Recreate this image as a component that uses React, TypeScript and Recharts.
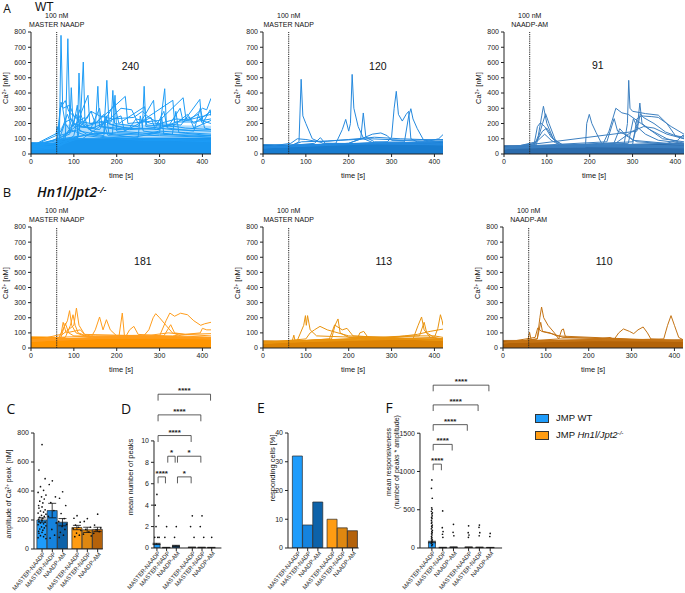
import React from 'react';
import {
  ComposedChart,
  Line,
  Area,
  Bar,
  Scatter,
  ErrorBar,
  Cell,
  XAxis,
  YAxis,
  ReferenceLine
} from 'recharts';

const FONT = '"Liberation Sans", Arial, Helvetica, sans-serif';
const TITLE_FONT = '"Open Sans", "Liberation Sans", sans-serif';

// shared axis values
const TIME_TICKS = [0, 100, 200, 300, 400];
const CA_TICKS = [0, 100, 200, 300, 400, 500, 600, 700, 800];
const STIM_TIME = 60;
const TREATMENTS = ['MASTER-NAADP', 'MASTER-NADP', 'NAADP-AM'];
const STIM_LABELS = ['MASTER NAADP', 'MASTER NADP', 'NAADP-AM'];
const CELL_COUNTS_WT = [240, 120, 91];
const CELL_COUNTS_KO = [181, 113, 110];

// Ca2+ traces, [time s, nM] pairs
const WT_MASTER_NAADP_BAND = [[0, 75], [55, 72], [60, 80], [70, 100], [200, 105], [420, 105]];
const WT_MASTER_NAADP_MESH = [[0, 75], [55, 75], [62, 150], [75, 190], [120, 200], [200, 195], [300, 190], [420, 185]];
const WT_MASTER_NAADP_TRACES = [
  [[0, 40], [60, 45], [66, 60], [70, 778], [74, 300], [80, 200], [90, 160], [110, 140], [130, 120], [160, 110], [200, 100], [260, 90], [320, 90], [420, 80]],
  [[0, 50], [60, 50], [80, 80], [86, 756], [90, 250], [100, 180], [130, 130], [180, 110], [250, 100], [420, 90]],
  [[0, 55], [62, 70], [110, 110], [116, 250], [122, 603], [126, 200], [140, 150], [200, 130], [300, 120], [420, 110]],
  [[0, 35], [70, 60], [108, 100], [112, 531], [116, 200], [150, 140], [190, 130], [196, 385], [200, 150], [300, 130], [420, 120]],
  [[0, 45], [60, 50], [90, 150], [94, 435], [98, 200], [120, 180], [150, 170], [156, 444], [160, 180], [200, 160], [260, 170], [264, 444], [268, 180], [330, 160], [420, 150]],
  [[0, 60], [70, 100], [170, 140], [177, 483], [182, 200], [220, 170], [300, 160], [312, 428], [316, 190], [360, 170], [420, 160]],
  [[0, 30], [60, 40], [70, 340], [75, 300], [90, 320], [100, 250], [120, 210], [140, 200], [187, 210], [191, 417], [195, 200], [250, 180], [286, 352], [290, 200], [350, 190], [394, 358], [398, 220], [420, 200]],
  [[0, 40], [60, 40], [68, 300], [80, 350], [88, 280], [110, 220], [133, 385], [137, 200], [180, 220], [210, 300], [235, 290], [250, 200], [331, 352], [335, 210], [380, 210], [420, 230]],
  [[0, 50], [58, 120], [61, 180], [66, 120], [110, 160], [140, 280], [150, 200], [220, 378], [226, 200], [300, 220], [355, 369], [362, 220], [420, 260]],
  [[0, 45], [65, 100], [130, 230], [140, 280], [160, 250], [190, 230], [240, 240], [260, 280], [275, 240], [300, 200], [340, 230], [370, 220], [400, 300], [410, 290], [420, 365]],
  [[0, 30], [60, 35], [100, 120], [113, 290], [125, 180], [150, 200], [170, 260], [180, 200], [200, 180], [230, 170], [245, 230], [260, 220], [280, 200], [330, 180], [365, 260], [380, 200], [420, 280]],
  [[0, 40], [90, 130], [105, 260], [115, 180], [160, 160], [195, 330], [205, 200], [265, 310], [270, 190], [320, 180], [348, 300], [355, 210], [390, 260], [400, 200], [418, 290], [420, 250]],
  [[0, 60], [70, 90], [140, 130], [200, 140], [260, 130], [300, 150], [360, 140], [420, 130]],
  [[0, 50], [70, 80], [120, 100], [170, 200], [180, 120], [250, 110], [255, 250], [262, 150], [330, 130], [338, 280], [345, 140], [420, 120]],
  [[0, 35], [60, 50], [80, 210], [95, 230], [105, 180], [140, 170], [160, 300], [166, 180], [230, 160], [290, 170], [310, 280], [318, 170], [380, 150], [395, 300], [405, 170], [420, 160]],
  [[0, 45], [65, 70], [100, 200], [108, 320], [114, 150], [170, 120], [176, 250], [182, 130], [240, 110], [300, 140], [305, 240], [310, 130], [420, 110]],
  [[0, 50], [70, 150], [85, 260], [95, 180], [125, 240], [135, 160], [210, 250], [218, 150], [280, 240], [290, 160], [370, 240], [380, 170], [420, 220]]
];

const WT_MASTER_NADP_BAND = [[0, 62], [60, 60], [200, 66], [420, 80]];
const WT_MASTER_NADP_TRACES = [
  [[0, 40], [60, 45], [84, 80], [89, 490], [93, 250], [100, 200], [115, 100], [140, 70], [420, 60]],
  [[0, 45], [60, 50], [170, 70], [185, 160], [193, 227], [200, 150], [204, 200], [208, 522], [212, 300], [222, 180], [235, 100], [260, 70], [420, 60]],
  [[0, 40], [200, 70], [228, 100], [234, 269], [240, 110], [260, 80], [420, 70]],
  [[0, 40], [290, 80], [300, 110], [306, 300], [311, 411], [316, 260], [325, 216], [334, 260], [340, 280], [345, 100], [360, 80], [420, 70]],
  [[0, 45], [330, 80], [340, 250], [345, 297], [350, 230], [360, 166], [375, 90], [420, 80]],
  [[0, 45], [200, 70], [230, 100], [255, 130], [275, 138], [290, 120], [300, 90], [420, 80]],
  [[0, 45], [65, 70], [80, 100], [100, 95], [130, 80], [180, 90], [250, 100], [330, 90], [420, 95]],
  [[0, 40], [120, 70], [134, 107], [145, 70], [420, 65]],
  [[0, 40], [380, 80], [410, 100], [420, 127]],
  [[0, 45], [60, 50], [90, 80], [150, 85], [200, 95], [260, 110], [320, 100], [420, 90]]
];

const WT_NAADP_AM_BAND = [[0, 55], [58, 55], [60, 70], [62, 55], [200, 56], [420, 70]];
const WT_NAADP_AM_TRACES = [
  [[0, 35], [70, 50], [80, 120], [88, 250], [92, 313], [100, 200], [115, 100], [135, 60], [420, 50]],
  [[0, 40], [75, 60], [90, 200], [97, 264], [105, 200], [120, 90], [140, 55], [420, 45]],
  [[0, 35], [70, 60], [78, 180], [85, 205], [95, 180], [110, 110], [130, 60], [420, 50]],
  [[0, 30], [75, 80], [90, 150], [100, 170], [115, 100], [130, 55], [420, 45]],
  [[0, 40], [72, 70], [95, 130], [110, 90], [135, 50], [420, 40]],
  [[0, 40], [190, 45], [193, 200], [199, 260], [205, 200], [215, 140], [228, 68], [420, 50]],
  [[0, 40], [280, 60], [288, 200], [291, 483], [294, 300], [300, 280], [330, 265], [360, 255], [380, 200], [400, 120], [420, 100]],
  [[0, 40], [230, 60], [245, 150], [261, 300], [275, 270], [290, 260], [320, 200], [345, 150], [370, 100], [420, 80]],
  [[0, 45], [240, 80], [257, 232], [265, 150], [290, 120], [300, 90], [420, 60]],
  [[0, 40], [300, 80], [312, 200], [317, 334], [322, 200], [340, 160], [380, 100], [420, 70]],
  [[0, 40], [290, 70], [302, 232], [310, 180], [330, 130], [360, 90], [420, 70]],
  [[0, 40], [310, 150], [318, 264], [325, 240], [350, 200], [377, 144], [400, 120], [420, 110]],
  [[0, 40], [260, 70], [280, 110], [300, 150], [326, 180], [350, 170], [380, 130], [420, 100]],
  [[0, 40], [255, 60], [270, 166], [285, 120], [310, 80], [420, 60]],
  [[0, 35], [300, 60], [310, 230], [320, 250], [345, 245], [360, 240], [390, 180], [420, 130]],
  [[0, 40], [380, 70], [405, 90], [418, 125], [420, 110]]
];

const KO_MASTER_NAADP_BAND = [[0, 74], [55, 72], [60, 62], [150, 62], [300, 66], [420, 68]];
const KO_MASTER_NAADP_TRACES = [
  [[0, 50], [60, 60], [100, 150], [106, 264], [112, 150], [125, 90], [150, 70], [420, 65]],
  [[0, 50], [65, 70], [85, 180], [90, 247], [95, 150], [105, 100], [130, 75], [420, 65]],
  [[0, 45], [80, 70], [92, 150], [98, 220], [103, 150], [110, 100], [140, 70], [420, 60]],
  [[0, 50], [70, 70], [80, 165], [88, 100], [100, 80], [420, 65]],
  [[0, 50], [140, 70], [150, 120], [160, 205], [168, 120], [176, 187], [185, 120], [200, 80], [420, 65]],
  [[0, 45], [205, 70], [213, 231], [218, 80], [420, 60]],
  [[0, 45], [220, 70], [230, 120], [240, 143], [250, 90], [420, 60]],
  [[0, 50], [260, 70], [275, 120], [285, 200], [291, 227], [300, 200], [315, 150], [330, 100], [350, 80], [420, 70]],
  [[0, 50], [300, 80], [315, 180], [324, 231], [335, 210], [349, 230], [365, 220], [380, 180], [396, 150], [405, 160], [420, 170]],
  [[0, 45], [310, 80], [326, 154], [335, 100], [360, 90], [420, 80]],
  [[0, 50], [330, 80], [360, 90], [395, 100], [400, 130], [410, 120], [420, 120]],
  [[0, 45], [70, 90], [75, 170], [82, 100], [115, 120], [125, 90], [420, 70]],
  [[0, 55], [60, 70], [150, 80], [280, 85], [320, 100], [360, 90], [420, 95]]
];

const KO_MASTER_NADP_BAND = [[0, 48], [60, 47], [200, 52], [300, 58], [420, 62]];
const KO_MASTER_NADP_TRACES = [
  [[0, 30], [80, 50], [95, 150], [99, 214], [101, 150], [104, 214], [110, 120], [125, 80], [420, 50]],
  [[0, 35], [100, 60], [110, 100], [120, 120], [133, 143], [150, 120], [175, 100], [200, 80], [420, 55]],
  [[0, 35], [160, 60], [168, 150], [175, 192], [180, 100], [200, 70], [420, 50]],
  [[0, 30], [155, 60], [167, 152], [185, 120], [196, 130], [210, 80], [420, 50]],
  [[0, 35], [220, 60], [226, 100], [235, 110], [245, 70], [420, 50]],
  [[0, 35], [350, 60], [362, 150], [370, 205], [376, 120], [390, 70], [420, 55]],
  [[0, 30], [365, 80], [376, 170], [382, 100], [400, 70], [420, 60]],
  [[0, 35], [400, 70], [408, 130], [414, 220], [418, 180], [420, 150]],
  [[0, 40], [300, 70], [330, 80], [360, 90], [390, 110], [420, 125]],
  [[0, 40], [68, 45], [72, 85], [75, 45], [200, 60], [260, 70], [340, 80], [400, 80], [420, 70]]
];

const KO_NAADP_AM_BAND = [[0, 50], [60, 50], [300, 52], [420, 55]];
const KO_NAADP_AM_TRACES = [
  [[0, 35], [80, 60], [86, 200], [90, 271], [95, 200], [105, 150], [120, 100], [130, 60], [420, 45]],
  [[0, 30], [80, 60], [88, 170], [92, 110], [110, 100], [125, 80], [420, 45]],
  [[0, 35], [75, 70], [81, 132], [90, 110], [120, 90], [140, 70], [420, 45]],
  [[0, 35], [130, 60], [137, 120], [141, 126], [145, 80], [150, 70], [420, 45]],
  [[0, 35], [260, 60], [270, 100], [281, 126], [295, 110], [305, 95], [315, 120], [327, 139], [337, 100], [345, 60], [420, 45]],
  [[0, 35], [375, 60], [384, 150], [392, 214], [400, 150], [410, 70], [420, 55]],
  [[0, 35], [58, 50], [62, 104], [66, 50], [420, 45]],
  [[0, 35], [200, 50], [250, 70], [260, 55], [420, 50]]
];

// summary panels, order: WT x 3 treatments, then Hn1l/Jpt2-/- x 3
const AMP_MEAN = [200, 265, 185, 148, 132, 135];
const AMP_SEM = [15, 50, 25, 15, 18, 15];
const AMP_POINTS = [
  [720, 545, 485, 430, 405, 390, 372, 360, 345, 330, 318, 300, 290, 282, 270, 262, 255, 248, 240, 232, 225, 218, 212, 205, 198, 192, 186, 180, 174, 168, 160, 152, 145, 138, 130, 122, 115, 108, 100, 92, 85, 78, 72],
  [470, 445, 360, 320, 265, 225, 180, 135, 95, 75],
  [395, 350, 300, 245, 210, 190, 170, 155, 135, 115, 95, 80],
  [230, 212, 185, 165, 150, 140, 128, 110, 95, 85],
  [210, 190, 150, 135, 118, 102, 90],
  [240, 165, 145, 132, 120, 108]
];

const PEAKS_MEAN = [0.38, 0.04, 0.2, 0.06, 0.05, 0.04];
const PEAKS_SEM = [0.06, 0.02, 0.05, 0.02, 0.02, 0.02];
const PEAKS_POINTS = [[5, 4, 3, 2, 1, 1, 1], [2, 1], [2, 1], [3, 2, 1], [3, 2, 1], [1]];
// [from, to, bracket row, stars]
const PEAKS_SIG: [number, number, number, string][] = [
  [0, 1, 0, '****'], [2, 3, 0, '*'], [1, 2, 1, '*'], [2, 4, 1, '*'],
  [0, 3, 2, '****'], [0, 4, 3, '****'], [0, 5, 4, '****']
];

const RESPONDING_PCT = [32, 8, 16, 10, 7, 6];

const RESP_MEAN = [78, 6, 10, 10, 8, 6];
const RESP_SEM = [10, 3, 4, 3, 3, 2];
const RESP_POINTS = [
  [890, 780, 650, 525, 505, 480, 460, 445, 420, 400, 385, 360, 340, 325, 300, 285, 270, 250, 232, 215, 200, 185, 170, 150, 135, 120, 105, 90, 75, 60, 45, 30],
  [485, 265, 215, 180, 140],
  [310, 205, 160],
  [290, 200, 170, 140],
  [300, 270, 200, 160],
  [190, 150]
];
const RESP_SIG: [number, number, number, string][] = [
  [0, 1, 0, '****'], [0, 2, 1, '****'], [0, 3, 2, '****'], [0, 4, 3, '****'], [0, 5, 4, '****']
];

const BAR_COLORS = ['#1e9cfb', '#1583de', '#0d62a9', '#ff9c12', '#de8710', '#b4620b'];
const JITTER = [0, -0.3, 0.3, -0.15, 0.15, -0.38, 0.38, -0.05, 0.22, -0.22, 0.08, -0.33];

const TICK = { fontSize: 7, fill: '#222', fontFamily: FONT };

const Txt = ({ x, y, size = 7, rotate = 0, anchor = 'center', style, children }: any) => (
  <div
    style={{
      position: 'absolute',
      left: x,
      top: y,
      transform: anchor === 'center' ? `translate(-50%, -50%) rotate(${rotate}deg)` : 'translate(0, -50%)',
      fontSize: size,
      lineHeight: 1.1,
      whiteSpace: 'nowrap',
      textAlign: 'center',
      ...style
    }}
  >
    {children}
  </div>
);

const Sup = ({ children }: any) => (
  <span style={{ fontSize: '0.65em', verticalAlign: '0.5em' }}>{children}</span>
);

const toPts = (pairs: number[][]) => pairs.map(([t, v]) => ({ t, v }));

const TracePanel = ({ plotLeft, plotTop, plotH, traces, band, mesh, line, fill, stim, count, countAt }: any) => {
  const yw = 31;
  const mt = 32;
  const plotW = 180;
  const xh = 30;
  const width = yw + plotW + 1;
  const height = mt + plotH + xh;
  const stimX = yw + (STIM_TIME / 420) * plotW;
  return (
    <div style={{ position: 'absolute', left: plotLeft - yw, top: plotTop - mt, width, height }}>
      <ComposedChart width={width} height={height} margin={{ top: mt, right: 1, bottom: 0, left: 0 }}>
        <XAxis type="number" dataKey="t" domain={[0, 420]} ticks={TIME_TICKS} interval={0} allowDataOverflow
          height={xh} tickSize={3} tick={TICK} stroke="#222" />
        <YAxis type="number" domain={[0, 800]} ticks={CA_TICKS} interval={0} allowDataOverflow
          width={yw} tickSize={3} tick={TICK} stroke="#222" />
        {mesh && (
          <Area data={toPts(mesh)} dataKey="v" type="linear" fill={line} fillOpacity={0.35} stroke="none"
            isAnimationActive={false} />
        )}
        <Area data={toPts(band)} dataKey="v" type="linear" fill={fill} fillOpacity={1} stroke={fill}
          strokeWidth={0.8} isAnimationActive={false} />
        {traces.map((tr: number[][], i: number) => (
          <Line key={i} data={toPts(tr)} dataKey="v" type="linear" stroke={line} strokeWidth={1}
            dot={false} isAnimationActive={false} />
        ))}
        <ReferenceLine x={STIM_TIME} stroke="#222" strokeDasharray="1.2 1" strokeWidth={1} />
      </ComposedChart>
      <Txt x={stimX} y={mt - 16}>100 nM</Txt>
      <Txt x={stimX} y={mt - 7}>{stim}</Txt>
      <Txt x={yw + (countAt[0] / 420) * plotW} y={mt + (1 - countAt[1] / 800) * plotH} size={10.5}>{count}</Txt>
      <Txt x={6} y={mt + plotH / 2 - 5} rotate={-90} size={7.5}>Ca<Sup>2+</Sup> [nM]</Txt>
      <Txt x={yw + plotW / 2} y={mt + plotH + 22} size={7.5}>time [s]</Txt>
    </div>
  );
};

const RotTick = ({ x, y, index }: any) => (
  <g transform={`translate(${x + 2},${y - 1})`}>
    <text textAnchor="end" transform="rotate(-50)" fontSize={6} fill="#222" fontFamily={FONT} dy="0.35em">
      {TREATMENTS[index % 3]}
    </text>
  </g>
);

const Dot = (p: any) => <circle cx={p.cx} cy={p.cy} r={0.85} fill="#111" />;
const Stars = (p: any) => (
  <text x={p.cx} y={p.cy - 1} textAnchor="middle" fontSize={8} fontWeight="bold" fill="#222" fontFamily={FONT}>
    {p.payload.label}
  </text>
);

const BarPanel = ({
  plotLeft, plotTop, plotBottom, unit, xMin, xMax, gap, means, sems, points, jitter = 1,
  yMax, axisTop, yTicks, barSize, sig, sigBase = 0, sigStep = 0, sigLeg = 0
}: any) => {
  const yw = 28;
  const mt = 4;
  const xh = 55;
  const plotW = (xMax - xMin) * unit;
  const plotH = plotBottom - plotTop;
  const width = yw + plotW + 4;
  const height = mt + plotH + xh;
  const margin = { top: mt, right: 4, bottom: 0, left: 0 };
  const pos = (i: number) => i + (i >= 3 ? gap : 0);
  const table = means.map((m: number, i: number) => ({ x: pos(i), mean: m, sem: sems ? sems[i] : 0 }));
  const ticks = table.map((d: any) => d.x);
  const dots = points
    ? points.flatMap((vals: number[], i: number) =>
        vals.map((v, k) => ({ x: pos(i) + JITTER[k % JITTER.length] * jitter, y: v })))
    : [];
  const inset = 0.12;
  const brackets = (sig || []).map(([from, to, row, label]: any) => ({
    a: pos(from) + inset,
    b: pos(to) - inset,
    y: sigBase + row * sigStep,
    label
  }));
  const hasOverlay = dots.length > 0 || brackets.length > 0;
  return (
    <div style={{ position: 'absolute', left: plotLeft - yw, top: plotTop - mt, width, height }}>
      <div style={{ position: 'absolute', left: 0, top: 0 }}>
        <ComposedChart width={width} height={height} data={table} margin={margin}>
          <XAxis type="number" dataKey="x" domain={[xMin, xMax]} ticks={ticks} interval={0}
            allowDataOverflow height={xh} tickSize={3} tick={(p: any) => <RotTick {...p} />} stroke="#222" />
          <YAxis type="number" domain={[0, yMax]} ticks={yTicks} interval={0} allowDataOverflow width={yw}
            tickSize={3} tick={TICK} stroke="#222" axisLine={axisTop === yMax} />
          {axisTop !== yMax && (
            <ReferenceLine segment={[{ x: xMin, y: 0 }, { x: xMin, y: axisTop }]} stroke="#222" ifOverflow="visible" />
          )}
          <Bar dataKey="mean" barSize={barSize} stroke="#2a2a2a" strokeWidth={0.7} isAnimationActive={false}>
            {table.map((_: any, i: number) => (
              <Cell key={i} fill={BAR_COLORS[i]} />
            ))}
            {sems && <ErrorBar dataKey="sem" width={4} stroke="#111" strokeWidth={0.8} direction="y" />}
          </Bar>
        </ComposedChart>
      </div>
      {hasOverlay && (
        <div style={{ position: 'absolute', left: 0, top: 0 }}>
          <ComposedChart width={width} height={height} margin={margin}>
            <XAxis type="number" dataKey="x" domain={[xMin, xMax]} ticks={ticks} allowDataOverflow height={xh}
              tick={false} tickLine={false} axisLine={false} />
            <YAxis type="number" domain={[0, yMax]} ticks={yTicks} allowDataOverflow width={yw}
              tick={false} tickLine={false} axisLine={false} />
            {dots.length > 0 && (
              <Scatter data={dots} dataKey="y" shape={Dot} isAnimationActive={false} />
            )}
            {brackets.map((b: any, i: number) => (
              <ReferenceLine key={`l${i}`} segment={[{ x: b.a, y: b.y - sigLeg }, { x: b.a, y: b.y }]} stroke="#333" strokeWidth={0.8} ifOverflow="visible" />
            ))}
            {brackets.map((b: any, i: number) => (
              <ReferenceLine key={`t${i}`} segment={[{ x: b.a, y: b.y }, { x: b.b, y: b.y }]} stroke="#333" strokeWidth={0.8} ifOverflow="visible" />
            ))}
            {brackets.map((b: any, i: number) => (
              <ReferenceLine key={`r${i}`} segment={[{ x: b.b, y: b.y }, { x: b.b, y: b.y - sigLeg }]} stroke="#333" strokeWidth={0.8} ifOverflow="visible" />
            ))}
            {brackets.length > 0 && (
              <Scatter data={brackets.map((b: any) => ({ x: (b.a + b.b) / 2, y: b.y, label: b.label }))}
                dataKey="y" shape={Stars} isAnimationActive={false} />
            )}
          </ComposedChart>
        </div>
      )}
    </div>
  );
};

const TRACE_PANELS = [
  { plotLeft: 31, plotTop: 32, plotH: 122, traces: WT_MASTER_NAADP_TRACES, band: WT_MASTER_NAADP_BAND, mesh: WT_MASTER_NAADP_MESH, line: '#1d9cf6', fill: '#1996f0', stim: STIM_LABELS[0], count: CELL_COUNTS_WT[0], countAt: [232, 570] },
  { plotLeft: 263, plotTop: 32, plotH: 122, traces: WT_MASTER_NADP_TRACES, band: WT_MASTER_NADP_BAND, line: '#2589de', fill: '#187cd0', stim: STIM_LABELS[1], count: CELL_COUNTS_WT[1], countAt: [268, 570] },
  { plotLeft: 504, plotTop: 32, plotH: 122, traces: WT_NAADP_AM_TRACES, band: WT_NAADP_AM_BAND, line: '#3c7fc0', fill: '#2c6cad', stim: STIM_LABELS[2], count: CELL_COUNTS_WT[2], countAt: [219, 575] },
  { plotLeft: 31, plotTop: 227, plotH: 121, traces: KO_MASTER_NAADP_TRACES, band: KO_MASTER_NAADP_BAND, line: '#ff9d1c', fill: '#ff9500', stim: STIM_LABELS[0], count: CELL_COUNTS_KO[0], countAt: [261, 569] },
  { plotLeft: 263, plotTop: 227, plotH: 121, traces: KO_MASTER_NADP_TRACES, band: KO_MASTER_NADP_BAND, line: '#e9940f', fill: '#dd8304', stim: STIM_LABELS[1], count: CELL_COUNTS_KO[1], countAt: [282, 569] },
  { plotLeft: 503, plotTop: 227, plotH: 121, traces: KO_NAADP_AM_TRACES, band: KO_NAADP_AM_BAND, line: '#c47314', fill: '#b36308', stim: STIM_LABELS[2], count: CELL_COUNTS_KO[2], countAt: [236, 569] }
];

export default function App() {
  return (
    <div style={{ position: 'absolute', left: 0, top: 0, width: 685, height: 593, overflow: 'hidden', background: '#fff', fontFamily: FONT, color: '#111' }}>
      {TRACE_PANELS.map((p, i) => (
        <TracePanel key={i} {...p} />
      ))}

      <BarPanel plotLeft={34} plotTop={433} plotBottom={549} unit={10.3} xMin={-0.78} xMax={5.9} gap={0.4}
        means={AMP_MEAN} sems={AMP_SEM} points={AMP_POINTS} jitter={1} yMax={800} axisTop={800}
        yTicks={[0, 200, 400, 600, 800]} barSize={10} />
      <BarPanel plotLeft={154} plotTop={382} plotBottom={548} unit={9.7} xMin={-0.3} xMax={6.65} gap={0.65}
        means={PEAKS_MEAN} sems={PEAKS_SEM} points={PEAKS_POINTS} jitter={0.6} yMax={15.5} axisTop={10}
        yTicks={[0, 2, 4, 6, 8, 10]} barSize={7} sig={PEAKS_SIG} sigBase={6.64} sigStep={1.93} sigLeg={0.6} />
      <BarPanel plotLeft={288} plotTop={433} plotBottom={548} unit={10.2} xMin={-0.93} xMax={6.0} gap={0.4}
        means={RESPONDING_PCT} yMax={40} axisTop={40} yTicks={[0, 10, 20, 30, 40]} barSize={10} />
      <BarPanel plotLeft={420} plotTop={372} plotBottom={548} unit={10.8} xMin={-1.1} xMax={6.5} gap={0.4}
        means={RESP_MEAN} sems={RESP_SEM} points={RESP_POINTS} jitter={0.12} yMax={2300} axisTop={1500}
        yTicks={[0, 500, 1000, 1500]} barSize={7} sig={RESP_SIG} sigBase={1096} sigStep={258} sigLeg={80} />

      {/* panel letters and titles */}
      <Txt x={7} y={9} size={12} style={{ fontFamily: TITLE_FONT }}>A</Txt>
      <Txt x={35} y={7} size={12} anchor="left" style={{ lineHeight: 1 }}>WT</Txt>
      <Txt x={7} y={192} size={13} style={{ fontFamily: TITLE_FONT }}>B</Txt>
      <Txt x={37} y={192} size={14} anchor="left" style={{ fontFamily: TITLE_FONT, fontStyle: 'italic', fontWeight: 600 }}>
        Hn1l/Jpt2<Sup>-/-</Sup>
      </Txt>
      <Txt x={11} y={409} size={14} style={{ fontFamily: TITLE_FONT }}>C</Txt>
      <Txt x={126} y={409} size={14} style={{ fontFamily: TITLE_FONT }}>D</Txt>
      <Txt x={261} y={408} size={14} style={{ fontFamily: TITLE_FONT }}>E</Txt>
      <Txt x={389} y={408} size={14} style={{ fontFamily: TITLE_FONT }}>F</Txt>

      {/* summary axis titles */}
      <Txt x={9} y={494} rotate={-90} size={7}>amplitude of Ca<Sup>2+</Sup> peak&nbsp; [nM]</Txt>
      <Txt x={131} y={477} rotate={-90} size={7.5}>mean number of peaks</Txt>
      <Txt x={273} y={468} rotate={-90} size={7.5}>responding cells [%]</Txt>
      <Txt x={393} y={462} rotate={-90} size={7}>mean responsiveness<br />(number of peaks * amplitude)</Txt>

      {/* legend */}
      <div style={{ position: 'absolute', left: 535, top: 414, width: 12, height: 7, background: BAR_COLORS[0], border: '1px solid #333' }} />
      <Txt x={556} y={418} size={9.5} anchor="left">JMP WT</Txt>
      <div style={{ position: 'absolute', left: 535, top: 431, width: 12, height: 7, background: BAR_COLORS[3], border: '1px solid #333' }} />
      <Txt x={556} y={435} size={9.5} anchor="left">JMP <i>Hn1l/Jpt2</i><Sup><i>-/-</i></Sup></Txt>
    </div>
  );
}
